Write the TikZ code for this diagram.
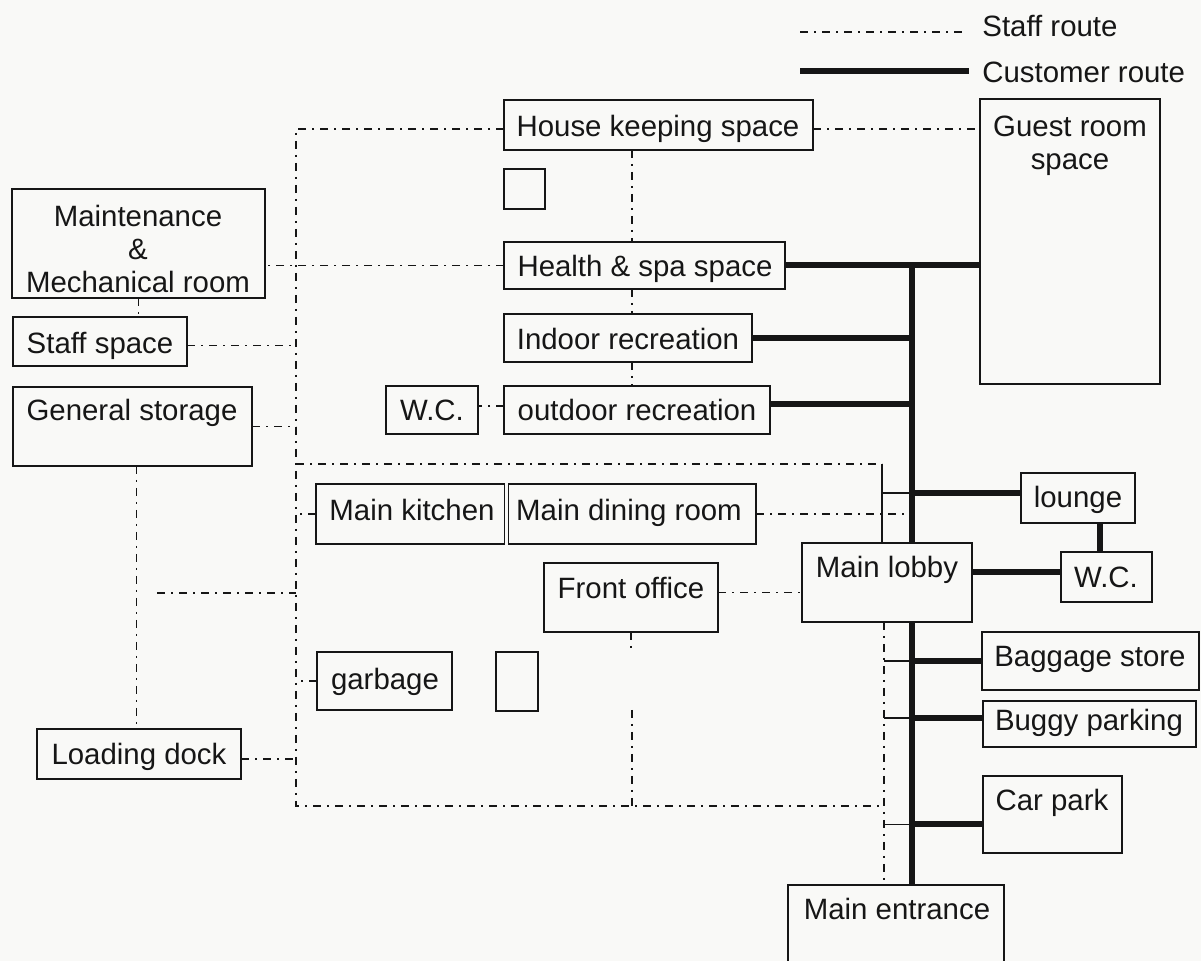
\documentclass[tikz,border=0pt]{standalone}
\usepackage{fontspec}
\setmainfont{Liberation Sans}
\usetikzlibrary{fit}
\definecolor{ink}{RGB}{22,22,22}
\definecolor{paper}{RGB}{249,249,247}
\begin{document}
\begin{tikzpicture}[x=0.5pt,y=-0.5pt,
  room/.style={draw=ink, line width=0.85pt, inner sep=0pt, outer sep=0pt},
  lbl/.style={inner sep=0pt, anchor=base, text=ink, align=center,
              font=\fontsize{14.7}{16.5}\selectfont},
  staff/.style={draw=ink, line width=0.8pt, dash pattern=on 4pt off 3pt on 1pt off 3pt},
  cust/.style={draw=ink, line width=3pt},
  link/.style={draw=ink, line width=0.6pt},
]
% page
\fill[paper] (0,0) rectangle (1201,961);
\useasboundingbox (0,0) rectangle (1201,961);
\clip (0,0) rectangle (1201,961);

% ---------- rooms ----------
\node[room, fit={(504,100) (813,150)}] (hk) {};
\node[room, fit={(504,169) (545,209)}] (sq1) {};
\node[room, fit={(980,99) (1160,384)}] (gr) {};
\node[room, fit={(12,189) (265,298)}] (mt) {};
\node[room, fit={(504,242) (785,289)}] (hs) {};
\node[room, fit={(13,317) (187,366)}] (ss) {};
\node[room, fit={(504,314) (752,362)}] (ir) {};
\node[room, fit={(13,387) (252,466)}] (gs) {};
\node[room, fit={(386,386) (478,434)}] (wc1) {};
\node[room, fit={(504,386) (770,434)}] (or) {};
\node[room, fit={(316,484) (504.5,544)}] (mk) {};
\node[room, fit={(508.5,484) (756,544)}] (md) {};
\node[room, fit={(1021,473) (1135,523)}] (lg) {};
\node[room, fit={(802,543) (972,622)}] (ml) {};
\node[room, fit={(1061,552) (1152,602)}] (wc2) {};
\node[room, fit={(544,563) (718,632)}] (fo) {};
\node[room, fit={(982,632) (1199,690)}] (bs) {};
\node[room, fit={(317,652) (452,710)}] (gb) {};
\node[room, fit={(496,652) (538,711)}] (sq2) {};
\node[room, fit={(983,701) (1196,747)}] (bp) {};
\node[room, fit={(37,729) (241,779)}] (ld) {};
\node[room, fit={(983,776) (1122,853)}] (cp) {};
\node[room, fit={(788,885) (1004,990)}] (me) {};

% ---------- room names ----------
\node[lbl] (hkt) at (658,137) {House keeping space};
\node[lbl] (grt) at (1070,170) {Guest room\\space};
\node[lbl] (hst) at (645,277) {Health \& spa space};
\node[lbl] (mtt) at (138,293) {Maintenance\\\&\\Mechanical room};
\node[lbl] (sst) at (100,354) {Staff space};
\node[lbl] (irt) at (628,350) {Indoor recreation};
\node[lbl] (gst) at (132,421) {General storage};
\node[lbl] (wc1t) at (432,421) {W.C.};
\node[lbl] (ort) at (637,421) {outdoor recreation};
\node[lbl] (mkt) at (412,521) {Main kitchen};
\node[lbl] (mdt) at (629,521) {Main dining room};
\node[lbl] (lgt) at (1078,508) {lounge};
\node[lbl] (mlt) at (887,578) {Main lobby};
\node[lbl] (wc2t) at (1106,588) {W.C.};
\node[lbl] (fot) at (631,599) {Front office};
\node[lbl] (bst) at (1090,667) {Baggage store};
\node[lbl] (bpt) at (1089,731) {Buggy parking};
\node[lbl] (gbt) at (385,690) {garbage};
\node[lbl] (ldt) at (139,765) {Loading dock};
\node[lbl] (cpt) at (1052,811) {Car park};
\node[lbl] (met) at (897,920) {Main entrance};

% ---------- key ----------
\node[lbl, anchor=base west] (kst) at (982,37) {Staff route};
\node[lbl, anchor=base west] (kct) at (982,83) {Customer route};
\coordinate (ks1) at (800,32);
\coordinate (ks2) at (962,32);
\coordinate (kc1) at (800,71);
\coordinate (kc2) at (969,71);
\draw[staff] (ks1) -- (ks2);
\draw[cust] (kc1) -- (kc2);

% ---------- staff route ----------
\coordinate (spT) at (296,129);   % top of the service spine
\coordinate (spB) at (296,806);   % bottom of the service spine
\coordinate (lbC) at (884,806);   % service corner beside the trunk
\coordinate (cx)  at (632,0);     % column linking the leisure rooms
\coordinate (tpL) at (296,464);
\coordinate (tpR) at (882,464);
\coordinate (lf)  at (157,593);
\coordinate (foL) at (632,710);
\coordinate (tk)  at (912,0);     % customer trunk
\coordinate (lgJ) at (912,493);

\draw[staff] (spT -| hk.west) -- (spT) -- (spB) -- (lbC);
\draw[staff] (spT -| hk.east) -- (spT -| gr.west);
\draw[staff] (cx |- hk.south) -- (cx |- hs.north);
\draw[staff] (cx |- hs.south) -- (cx |- ir.north);
\draw[staff] (cx |- ir.south) -- (cx |- or.north);
\draw[staff] ([yshift=2pt]or.west) -- ([yshift=2pt]or.west -| wc1.east);
\draw[staff] (hs.west) -- (hs.west -| mt.east);
\draw[staff] ([yshift=-2pt]ss.east) -- ([yshift=-2pt]ss.east -| spT);
\draw[staff] (gs.east) -- (gs.east -| spT);
\draw[staff] (mt.south) -- (mt.south |- ss.north);
\draw[staff] ([xshift=2pt]gs.south) -- ([xshift=2pt]gs.south |- ld.north);
\draw[staff] (lf) -- (lf -| spT);
\draw[staff] (mk.west) -- (mk.west -| spT);
\draw[staff] (gb.west) -- (gb.west -| spT);
\draw[staff] ([yshift=-2.5pt]ld.east) -- ([yshift=-2.5pt]ld.east -| spT);
\draw[staff] (tpL) -- (tpR);
\draw[staff] (md.east) -- (md.east -| tk);
\draw[staff] ([yshift=2.5pt]fo.east) -- ([yshift=2.5pt]fo.east -| ml.west);
\draw[staff] (fo.south) -- ++(0,22);
\draw[staff] (foL) -- (foL |- spB);
\draw[staff] (ml.south -| lbC) -- (lbC |- me.north);

% thin ties between the service line and the trunk
\draw[link] (tpR) -- (tpR |- ml.north);
\draw[link] (lgJ -| tpR) -- (lgJ);
\draw[link] (bs.west -| lbC) -- (bs.west -| tk);
\draw[link] ([yshift=3pt]bp.west -| lbC) -- ([yshift=3pt]bp.west -| tk);
\draw[link] ([yshift=-5pt]cp.west -| lbC) -- ([yshift=-5pt]cp.west -| tk);

% ---------- customer route ----------
\draw[cust] (hs.east) -- (hs.east -| gr.west);
\draw[cust] (tk |- hs.east) -- (tk |- ml.north);
\draw[cust] (tk |- ml.south) -- (tk |- me.north);
\draw[cust] (ir.east) -- (ir.east -| tk);
\draw[cust] ([yshift=3pt]or.east) -- ([yshift=3pt]or.east -| tk);
\draw[cust] (lgJ) -- (lgJ -| lg.west);
\draw[cust] ([yshift=2.5pt]wc2.west) -- ([yshift=2.5pt]wc2.west -| ml.east);
\draw[cust] ([xshift=-3.5pt]wc2.north) -- ([xshift=-3.5pt]wc2.north |- lg.south);
\draw[cust] (bs.west) -- (bs.west -| tk);
\draw[cust] ([yshift=3pt]bp.west) -- ([yshift=3pt]bp.west -| tk);
\draw[cust] ([yshift=-5pt]cp.west) -- ([yshift=-5pt]cp.west -| tk);
\end{tikzpicture}
\end{document}
